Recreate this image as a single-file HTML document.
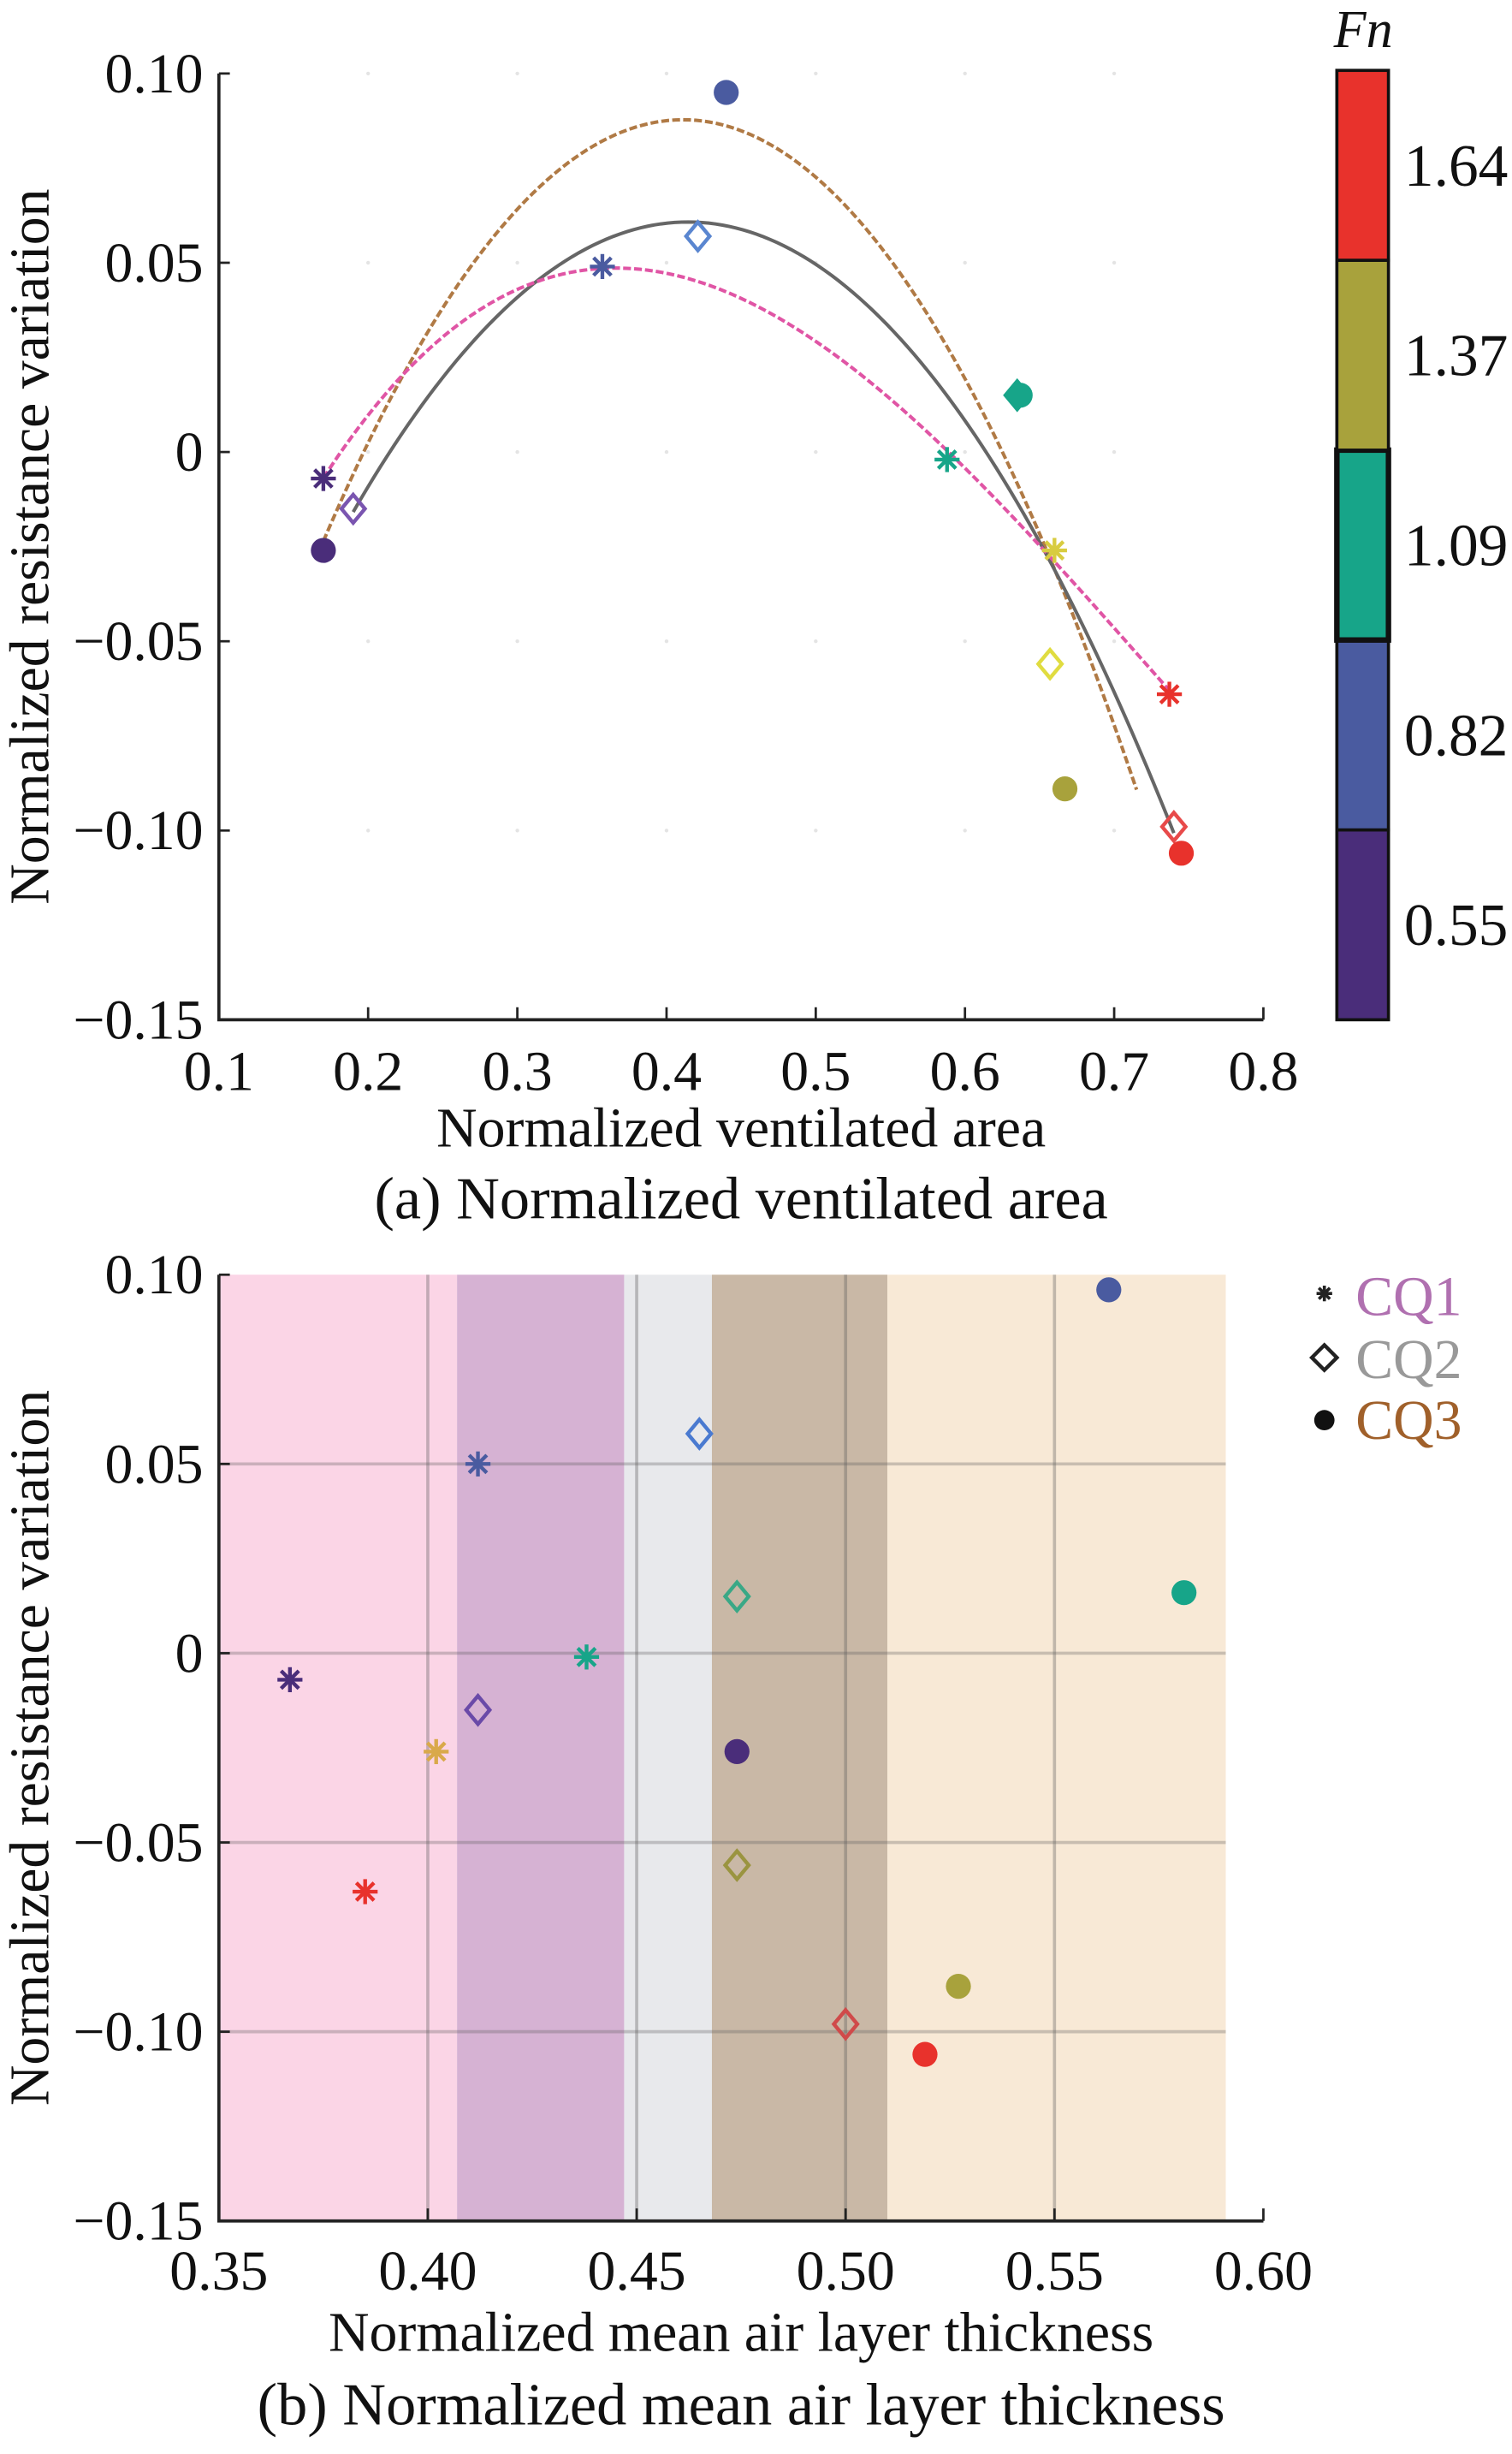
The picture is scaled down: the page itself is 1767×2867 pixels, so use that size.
<!DOCTYPE html>
<html><head><meta charset="utf-8"><style>
html,body{margin:0;padding:0;background:#fff}
svg{display:block}
text{font-family:"Liberation Serif",serif;fill:#111}
</style></head><body>
<svg id="fig" width="1767" height="2867" viewBox="0 0 967 1569" xmlns="http://www.w3.org/2000/svg">
<g id="chartA"></g>
<g id="chartB"></g>
</svg>
<script>
// ---------- data ----------
const fnColors = ['#4a2d7a','#4a5ba0','#17a589','#a8a23c','#e8322c'];
const fnLabels = ['0.55','0.82','1.09','1.37','1.64'];
const starColorsB = ['#4a2d7a','#4a5ba0','#17a589','#d9a94a','#e8322c'];
const starColorsA = ['#4a2d7a','#4a5ba0','#17a589','#d8cc40','#e8322c'];
const diaColorsA = ['#7a55b0','#5a86d0','#17a589','#e0dc40','#e84a4a'];
// Chart A (normalized ventilated area)
const aStarX = [0.170, 0.357, 0.588, 0.660, 0.737];
const aStarY = [-0.007, 0.049, -0.002, -0.026, -0.064];
const aDiaX = [0.190, 0.421, 0.635, 0.657, 0.740];
const aDiaY = [-0.015, 0.057, 0.015, -0.056, -0.099];
const aCirX = [0.170, 0.440, 0.637, 0.667, 0.745];
const aCirY = [-0.026, 0.095, 0.015, -0.089, -0.106];
const aXTicks = [0.1,0.2,0.3,0.4,0.5,0.6,0.7,0.8];
const aXTickLabels = ['0.1','0.2','0.3','0.4','0.5','0.6','0.7','0.8'];
const yTicks = [0.10,0.05,0,-0.05,-0.10,-0.15];
const yTickLabels = ['0.10','0.05','0','\u22120.05','\u22120.10','\u22120.15'];
// Chart B (normalized mean air layer thickness)
const bStarX = [0.367, 0.412, 0.438, 0.402, 0.385];
const bStarY = [-0.007, 0.050, -0.001, -0.026, -0.063];
const bDiaX = [0.412, 0.465, 0.474, 0.474, 0.500];
const bDiaY = [-0.015, 0.058, 0.015, -0.056, -0.098];
const bCirX = [0.474, 0.563, 0.581, 0.527, 0.519];
const bCirY = [-0.026, 0.096, 0.016, -0.088, -0.106];
const bXTicks = [0.35,0.40,0.45,0.50,0.55,0.60];
const bXTickLabels = ['0.35','0.40','0.45','0.50','0.55','0.60'];
const bandStarts = [0.35, 0.407, 0.447, 0.468, 0.510];
const bandEnds = [0.407, 0.447, 0.468, 0.510, 0.591];
const bandColors = ['#fbd5e6','#d6b2d3','#e8e9ec','#c9b8a6','#f8e9d6'];

const NS='http://www.w3.org/2000/svg';
function mk(parent,tag,attrs,txt){const e=document.createElementNS(NS,tag);for(const k in attrs)e.setAttribute(k,attrs[k]);if(txt!==undefined)e.textContent=txt;parent.appendChild(e);return e;}

function polyfit(xs,ys,deg){
  const n=deg+1;const A=[];for(let i=0;i<n;i++){A.push(new Array(n+1).fill(0));}
  for(let k=0;k<xs.length;k++){for(let i=0;i<n;i++){for(let j=0;j<n;j++)A[i][j]+=Math.pow(xs[k],i+j);A[i][n]+=ys[k]*Math.pow(xs[k],i);}}
  for(let i=0;i<n;i++){let p=i;for(let r=i+1;r<n;r++)if(Math.abs(A[r][i])>Math.abs(A[p][i]))p=r;[A[i],A[p]]=[A[p],A[i]];
    for(let r=0;r<n;r++){if(r===i)continue;const f=A[r][i]/A[i][i];for(let c=i;c<=n;c++)A[r][c]-=f*A[i][c];}}
  return A.map((row,i)=>row[n]/row[i]);
}
function peval(c,x){return c.reduce((s,v,i)=>s+v*Math.pow(x,i),0);}

function drawStar(g,cx,cy,color,name){
  const s=mk(g,'g',{});
  
  
  for(let k=0;k<4;k++){const a=k*Math.PI/4;mk(s,'line',{x1:cx-8*Math.cos(a),y1:cy-8*Math.sin(a),x2:cx+8*Math.cos(a),y2:cy+8*Math.sin(a),stroke:color,'stroke-width':2.4});}
}
function drawDia(g,cx,cy,color,name){
  const d=mk(g,'path',{d:`M${cx} ${cy-9}L${cx+7.5} ${cy}L${cx} ${cy+9}L${cx-7.5} ${cy}Z`,fill:'none',stroke:color,'stroke-width':2.4});
  
  
}
function drawCir(g,cx,cy,color,name){
  const c=mk(g,'circle',{cx:cx,cy:cy,r:8,fill:color});
  
  
}

function axes(g,x0,x1,xs,xTicks,xLabels,yTop,yBot,ys,xTitle,caption,titleY,capY,tickY){
  yTicks.forEach((v,i)=>{const y=ys(v);
    const t=mk(g,'text',{x:130,y:y+12,'text-anchor':'end','font-size':36},yTickLabels[i]);
    
    
    mk(g,'line',{x1:x0,y1:y,x2:x0+7,y2:y,stroke:'#222','stroke-width':1.5});
  });
  xTicks.forEach((v,i)=>{const x=xs(v);
    const t=mk(g,'text',{x:x,y:tickY,'text-anchor':'middle','font-size':36},xLabels[i]);
    
    
    mk(g,'line',{x1:x,y1:yBot,x2:x,y2:yBot-8,stroke:'#222','stroke-width':1.5});
  });
  const ax=mk(g,'path',{d:`M${x0} ${yTop}V${yBot}H${x1}`,fill:'none',stroke:'#222','stroke-width':2});
  
  
  const yt=mk(g,'text',{x:0,y:0,'text-anchor':'middle','font-size':36,transform:`translate(31,${(yTop+yBot)/2}) rotate(-90)`},'Normalized resistance variation');
  
  
  const xt=mk(g,'text',{x:474,y:titleY,'text-anchor':'middle','font-size':36},xTitle);
  
  
  const cp=mk(g,'text',{x:474,y:capY,'text-anchor':'middle','font-size':38.5},caption);
  
  
}

// ---------- Chart A ----------
(function(){
  const g=document.getElementById('chartA');
  const x0=140,x1=808,yTop=47,yBot=652;
  const xs=v=>x0+(v-0.1)/0.7*(x1-x0);
  const ys=v=>yTop+(0.10-v)/0.25*(yBot-yTop);
  for(const xv of [0.2,0.3,0.4,0.5,0.6,0.7])for(const yv of [0.10,0.05,0,-0.05,-0.10])mk(g,'circle',{cx:xs(xv),cy:ys(yv),r:1.2,fill:'#e4e4e4'});
  function curve(X,Y,deg,from,to,color,dash,name){
    const c=polyfit(X,Y,deg);let d='';
    for(let i=0;i<=120;i++){const x=from+(to-from)*i/120;d+=(i?'L':'M')+xs(x).toFixed(2)+' '+ys(peval(c,x)).toFixed(2);}
    const p=mk(g,'path',{d:d,fill:'none',stroke:color,'stroke-width':2.2});
    if(dash)p.setAttribute('stroke-dasharray',dash);
    
    
  }
  curve(aCirX,aCirY,2,aCirX[0],0.715,'#b07a45','5 2','fit-curve-cq3');
  curve(aDiaX,aDiaY,2,aDiaX[0],aDiaX[4],'#666','', 'fit-curve-cq2');
  curve(aStarX,aStarY,3,aStarX[0],aStarX[4],'#e055a5','5 2','fit-curve-cq1');
  aStarX.forEach((v,i)=>drawStar(g,xs(v),ys(aStarY[i]),starColorsA[i],'cq1-star-point'));
  aDiaX.forEach((v,i)=>drawDia(g,xs(v),ys(aDiaY[i]),diaColorsA[i],'cq2-diamond-point'));
  aCirX.forEach((v,i)=>drawCir(g,xs(v),ys(aCirY[i]),fnColors[i],'cq3-circle-point'));
  axes(g,x0,x1,xs,aXTicks,aXTickLabels,yTop,yBot,ys,'Normalized ventilated area','(a) Normalized ventilated area',733,779,697);
  const cb=mk(g,'g',{});
  
  
  const segH=(652-45)/5;
  fnColors.forEach((c,i)=>{const y=652-(i+1)*segH;
    mk(cb,'rect',{x:855,y:y,width:33,height:segH,fill:c,stroke:'#111','stroke-width':i===2?3.5:2});
    const t=mk(cb,'text',{x:898,y:y+segH/2+13,'font-size':38},fnLabels[i]);
    
    
  });
  const fn=mk(cb,'text',{x:853,y:30,'font-size':34,'font-style':'italic'},'Fn');
  
  
})();

// ---------- Chart B ----------
(function(){
  const g=document.getElementById('chartB');
  const x0=140,x1=808,yTop=815,yBot=1420;
  const xs=v=>x0+(v-0.35)/0.25*(x1-x0);
  const ys=v=>yTop+(0.10-v)/0.25*(yBot-yTop);
  bandStarts.forEach((s,i)=>{
    const r=mk(g,'rect',{x:xs(s),y:yTop,width:xs(bandEnds[i])-xs(s),height:yBot-yTop,fill:bandColors[i]});
    
    
  });
  const xe=xs(0.591);
  [0.40,0.45,0.50,0.55].forEach(v=>mk(g,'line',{x1:xs(v),y1:yTop,x2:xs(v),y2:yBot,stroke:'rgba(90,90,90,0.35)','stroke-width':2}));
  [0.05,0,-0.05,-0.10].forEach(v=>mk(g,'line',{x1:x0,y1:ys(v),x2:xe,y2:ys(v),stroke:'rgba(90,90,90,0.3)','stroke-width':2}));
  bStarX.forEach((v,i)=>drawStar(g,xs(v),ys(bStarY[i]),starColorsB[i],'cq1-star-point'));
  bDiaX.forEach((v,i)=>drawDia(g,xs(v),ys(bDiaY[i]),['#6a4aa8','#4a7ad0','#3aa886','#9a9440','#d04a4a'][i],'cq2-diamond-point'));
  bCirX.forEach((v,i)=>drawCir(g,xs(v),ys(bCirY[i]),fnColors[i],'cq3-circle-point'));
  axes(g,x0,x1,xs,bXTicks,bXTickLabels,yTop,yBot,ys,'Normalized mean air layer thickness','(b) Normalized mean air layer thickness',1503,1550,1464);
  const lg=mk(g,'g',{});
  
  
  const e1=mk(lg,'g',{});
  
  
  for(let k=0;k<4;k++){const a=k*Math.PI/4;mk(e1,'line',{x1:847-5*Math.cos(a),y1:827-5*Math.sin(a),x2:847+5*Math.cos(a),y2:827+5*Math.sin(a),stroke:'#222','stroke-width':2});}
  mk(e1,'text',{x:867,y:841,'font-size':36,style:'fill:#b070b0'},'CQ1');
  const e2=mk(lg,'g',{});
  
  
  mk(e2,'path',{d:'M847 860L855 868L847 876L839 868Z',fill:'none',stroke:'#222','stroke-width':2.4});
  mk(e2,'text',{x:867,y:881,'font-size':36,style:'fill:#999'},'CQ2');
  const e3=mk(lg,'g',{});
  
  
  mk(e3,'circle',{cx:847,cy:908,r:6.5,fill:'#111'});
  mk(e3,'text',{x:867,y:920,'font-size':36,style:'fill:#a0602a'},'CQ3');
})();
</script>
</body></html>
